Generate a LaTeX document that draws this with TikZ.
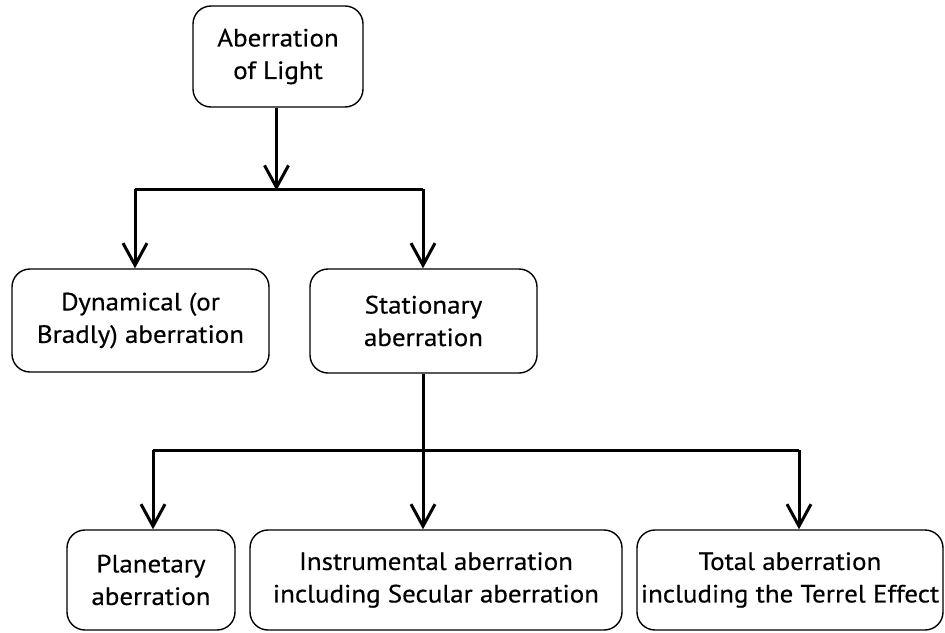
\documentclass[tikz,border=0pt]{standalone}
\usepackage{fontspec}
\setmainfont{PT Sans}[FakeBold=0.35,FakeStretch=1.08]
\usetikzlibrary{arrows.meta}
\begin{document}
\begin{tikzpicture}[x=1pt,y=-1pt,
  box/.style={draw=black,line width=1.4pt,rounded corners=18pt,align=center,
    font=\fontsize{25}{32.5}\selectfont,inner sep=0pt},
  conn/.style={line width=3pt,black},
  arr/.style={conn,-{Straight Barb[length=22pt,width=24pt,line width=3pt]}}]
\useasboundingbox (0,0) rectangle (945,632);
% boxes
\node[box,minimum width=170pt,minimum height=101pt] (root) at (278,56.5) {Aberration\\of Light};
\node[box,minimum width=257pt,minimum height=103pt] (dyn) at (140.5,320.5) {Dynamical (or\\Bradly) aberration};
\node[box,minimum width=227pt,minimum height=104pt] (stat) at (423.5,321) {Stationary\\aberration};
\node[box,minimum width=168pt,minimum height=100pt] (plan) at (151,580) {Planetary\\aberration};
\node[box,minimum width=372pt,minimum height=100pt] (instr) at (436,580) {Instrumental aberration\\including Secular aberration};
\node[box,minimum width=306pt,minimum height=100pt] (total) at (790,580) {Total aberration\\including the Terrel Effect};
% junctions
\coordinate (j1) at (276.5,189);
\coordinate (j1L) at (135,189);
\coordinate (j1R) at (423,189);
\coordinate (j2) at (423,450);
\coordinate (j2L) at (153,450);
\coordinate (j2R) at (799,450);
% connectors
\draw[arr] (root.south -| j1) -- ([yshift=-1.5pt]j1);
\draw[conn] (j1L) -- (j1R);
\draw[arr] (j1L) -- (j1L |- dyn.north);
\draw[arr] (j1R) -- (j1R |- stat.north);
\draw[conn] (stat.south -| j2) -- (j2);
\draw[conn] (j2L) -- (j2R);
\draw[arr] (j2) -- (j2 |- instr.north);
\draw[arr] (j2L) -- (j2L |- plan.north);
\draw[arr] (j2R) -- (j2R |- total.north);
\end{tikzpicture}
\end{document}
